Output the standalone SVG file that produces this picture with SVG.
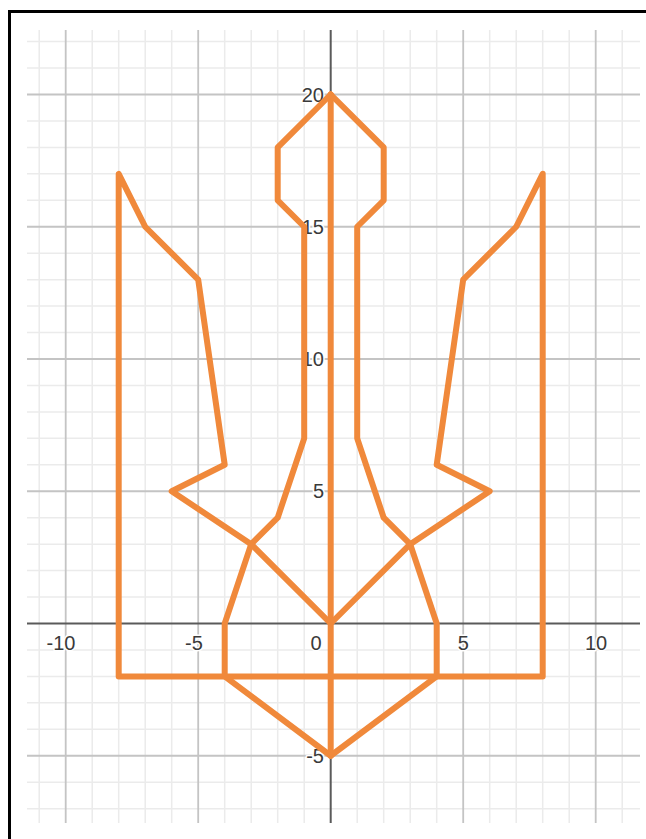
<svg xmlns="http://www.w3.org/2000/svg" width="646" height="839" viewBox="0 0 646 839">
<style>
.minor{stroke:#ebebeb;stroke-width:1.5;fill:none}
.major{stroke:#c4c4c4;stroke-width:1.8;fill:none}
.axis{stroke:#5a5a5a;stroke-width:2;fill:none}
.lbl{font-family:"Liberation Sans",Arial,sans-serif;font-size:20px;fill:#3a3a3a;stroke:#fff;stroke-width:3;paint-order:stroke;stroke-linejoin:round}
.curve{stroke:#f0893b;stroke-width:6;fill:none;stroke-linejoin:round;stroke-linecap:round}
</style>
<rect x="0" y="0" width="646" height="839" fill="#fff"/>
<rect x="9.5" y="11.5" width="700" height="900" fill="none" stroke="#000" stroke-width="3"/>
<g id="grid">
<g class="minor">
<path d="M39.2 30V823M92.2 30V823M118.7 30V823M145.2 30V823M171.7 30V823M224.7 30V823M251.2 30V823M277.7 30V823M304.2 30V823M357.2 30V823M383.7 30V823M410.2 30V823M436.7 30V823M489.7 30V823M516.2 30V823M542.7 30V823M569.2 30V823M622.2 30V823"/>
<path d="M27 41.6H640M27 68.05H640M27 120.95H640M27 147.4H640M27 173.85H640M27 200.3H640M27 253.2H640M27 279.65H640M27 306.1H640M27 332.55H640M27 385.45H640M27 411.9H640M27 438.35H640M27 464.8H640M27 517.7H640M27 544.15H640M27 570.6H640M27 597.05H640M27 649.95H640M27 676.4H640M27 702.85H640M27 729.3H640M27 782.2H640M27 808.65H640"/>
</g>
<g class="major">
<path d="M65.7 30V823M198.2 30V823M463.2 30V823M595.7 30V823"/>
<path d="M27 94.5H640M27 226.75H640M27 359H640M27 491.25H640M27 755.75H640"/>
</g>
<g class="axis">
<path d="M330.7 30V823M27 623.5H640"/>
</g>
</g>
<g id="labels">
<text class="lbl" x="61" y="650" text-anchor="middle">-10</text>
<text class="lbl" x="194" y="650" text-anchor="middle">-5</text>
<text class="lbl" x="316" y="650" text-anchor="middle">0</text>
<text class="lbl" x="463.2" y="650" text-anchor="middle">5</text>
<text class="lbl" x="596" y="650" text-anchor="middle">10</text>
<text class="lbl" x="324" y="101.5" text-anchor="end">20</text>
<text class="lbl" x="324" y="233.75" text-anchor="end">15</text>
<text class="lbl" x="324" y="366" text-anchor="end">10</text>
<text class="lbl" x="324" y="498.25" text-anchor="end">5</text>
<text class="lbl" x="324" y="762.75" text-anchor="end">-5</text>
</g>
<g id="connectors">
<path id="center-shaft" class="curve" d="M330.7 94.5V755.75"/>
<path id="left-inner" class="curve" d="M330.7 94.5L277.7 147.4L277.7 200.3L304.2 226.75L304.2 438.35L277.7 517.7L251.2 544.15L224.7 623.5L224.7 676.4L330.7 755.75"/>
<path id="right-inner" class="curve" d="M330.7 94.5L383.7 147.4L383.7 200.3L357.2 226.75L357.2 438.35L383.7 517.7L410.2 544.15L436.7 623.5L436.7 676.4L330.7 755.75"/>
<path id="outer" class="curve" d="M330.7 623.5L251.2 544.15L171.7 491.25L224.7 464.8L198.2 279.65L145.2 226.75L118.7 173.85L118.7 676.4L542.7 676.4L542.7 173.85L516.2 226.75L463.2 279.65L436.7 464.8L489.7 491.25L410.2 544.15Z"/>
</g>
</svg>
